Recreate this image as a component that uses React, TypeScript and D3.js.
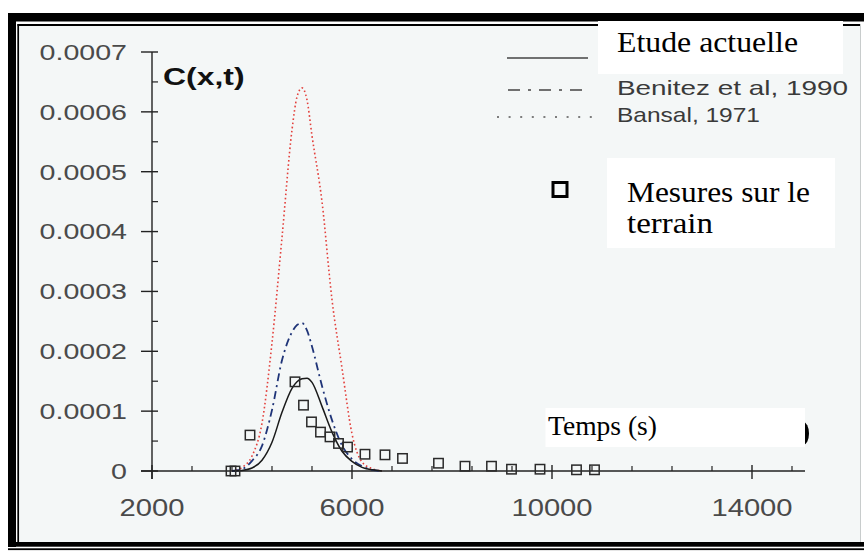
import React from 'react';
import * as d3 from 'd3';

const W = 864;
const H = 551;

// ---- data ----
const curveTimes = [3600, 3800, 4000, 4200, 4400, 4600, 4800, 4900, 5000, 5100, 5200, 5400, 5600, 5800, 6000, 6200, 6400, 6600];
const etudeActuelle = [0, 0.000001, 0.000005, 0.000018, 0.000048, 0.000098, 0.000138, 0.000149, 0.000154, 0.000155, 0.000148, 0.000108, 0.000065, 0.000033, 0.000016, 0.000006, 0.000002, 0];
const benitez1990 = [0, 0.000003, 0.000017, 0.000042, 0.000102, 0.000185, 0.000232, 0.000244, 0.000247, 0.000235, 0.000208, 0.000142, 0.000085, 0.000043, 0.00002, 0.000008, 0.000002, 0];
const bansal1971 = [0, 0.000006, 0.000025, 0.00008, 0.000214, 0.00039, 0.00057, 0.000625, 0.00064, 0.00062, 0.00056, 0.00045, 0.000286, 0.000172, 0.000062, 0.000015, 0.000004, 0];

const measuredTimes = [3580, 3660, 3960, 4860, 5030, 5190, 5370, 5560, 5730, 5910, 6260, 6660, 7010, 7730, 8260, 8790, 9190, 9760, 10490, 10850];
const measuredValues = [0, 0, 0.00006, 0.000149, 0.00011, 0.000082, 0.000065, 0.000057, 0.000046, 0.00004, 0.000028, 0.000027, 0.000021, 0.000013, 0.000008, 0.000008, 0.000003, 0.000003, 0.000002, 0.000002];

const yTicks = [0, 0.0001, 0.0002, 0.0003, 0.0004, 0.0005, 0.0006, 0.0007];
const yTickLabels = ['0', '0.0001', '0.0002', '0.0003', '0.0004', '0.0005', '0.0006', '0.0007'];
const yMinorTicks = [0.00005, 0.00015, 0.00025, 0.00035, 0.00045, 0.00055, 0.00065];
const xTicks = [2000, 6000, 10000, 14000];
const xTickLabels = ['2000', '6000', '10000', '14000'];
const xMinorTicks = [2800, 3600, 4400, 5200, 6800, 7600, 8400, 9200, 10800, 11600, 12400, 13200, 14800];

const legendLabels = ['Etude actuelle', 'Benitez et al, 1990', 'Bansal, 1971'];
const measuredLabel = ['Mesures sur le', 'terrain'];
const yTitle = 'C(x,t)';
const xTitle = 'Temps (s)';

const x = d3.scaleLinear().domain([2000, 15000]).range([152, 802]);
const y = d3.scaleLinear().domain([0, 0.0007]).range([471, 52]);

const line = d3
  .line<[number, number]>()
  .x((d) => x(d[0]))
  .y((d) => y(d[1]))
  .curve(d3.curveMonotoneX);

const toPts = (vals: number[]) => curveTimes.map((t, i) => [t, vals[i]] as [number, number]);

const SANS = '"Liberation Sans", Arial, sans-serif';
const SERIF = '"Liberation Serif", "Times New Roman", serif';

export default function App() {
  const x0 = x(2000);
  const y0 = y(0);
  return (
    <svg
      width={W}
      height={H}
      viewBox={`0 0 ${W} ${H}`}
      style={{ position: 'absolute', left: 0, top: 0, background: '#ffffff' }}
    >
      {/* plot background */}
      <rect x={19} y={26} width={841} height={516} fill="#f4f7f7" />

      {/* frame */}
      <rect x={8} y={13} width={856} height={8.5} fill="#000" />
      <rect x={8} y={13} width={8} height={534} fill="#000" />
      <rect x={8} y={542} width={856} height={4.7} fill="#000" />
      <rect x={8} y={548.3} width={856} height={1.8} fill="#000" />
      <line x1={17.5} y1={25} x2={861} y2={25} stroke="#000" strokeWidth={1.8} />
      <line x1={18.2} y1={24} x2={18.2} y2={542} stroke="#000" strokeWidth={1.7} />
      <line x1={860.5} y1={24} x2={860.5} y2={542} stroke="#c8cccc" strokeWidth={1} />

      {/* y axis */}
      <line x1={x0} y1={y(0.0007)} x2={x0} y2={y0 + 8} stroke="#222" strokeWidth={1.4} />
      {yTicks.map((v) => (
        <line key={'yt' + v} x1={x0 - 11} y1={y(v)} x2={x0 + 6} y2={y(v)} stroke="#222" strokeWidth={1.4} />
      ))}
      {yMinorTicks.map((v) => (
        <line key={'ym' + v} x1={x0} y1={y(v)} x2={x0 + 6} y2={y(v)} stroke="#222" strokeWidth={1.2} />
      ))}
      {yTicks.map((v, i) => (
        <text
          key={'yl' + v}
          transform={`translate(127,${y(v) + 7.8}) scale(1.3,1)`}
          textAnchor="end"
          fontFamily={SANS}
          fontSize={22}
          fill="#4a4a4a"
        >
          {yTickLabels[i]}
        </text>
      ))}

      {/* x axis */}
      <line x1={x0 - 11} y1={y0} x2={x(15000) + 3} y2={y0} stroke="#222" strokeWidth={1.4} />
      {xTicks.map((v) => (
        <line key={'xt' + v} x1={x(v)} y1={y0 - 6} x2={x(v)} y2={y0 + 8} stroke="#222" strokeWidth={1.4} />
      ))}
      {xMinorTicks.map((v) => (
        <line key={'xm' + v} x1={x(v)} y1={y0 - 5} x2={x(v)} y2={y0} stroke="#222" strokeWidth={1.2} />
      ))}
      {xTicks.map((v, i) => (
        <text
          key={'xl' + v}
          transform={`translate(${x(v)},516) scale(1.27,1)`}
          textAnchor="middle"
          fontFamily={SANS}
          fontSize={23}
          fill="#4a4a4a"
        >
          {xTickLabels[i]}
        </text>
      ))}

      {/* curves */}
      <path d={line(toPts(bansal1971)) || ''} fill="none" stroke="#e3403c" strokeWidth={1.6} strokeDasharray="1.6 2.6" />
      <path d={line(toPts(benitez1990)) || ''} fill="none" stroke="#1f3478" strokeWidth={1.8} strokeDasharray="8 4 2 4" />
      <path d={line(toPts(etudeActuelle)) || ''} fill="none" stroke="#1a1a1a" strokeWidth={1.5} />

      {/* measurements */}
      {measuredTimes.map((t, i) => (
        <rect
          key={'m' + i}
          x={x(t) - 4.7}
          y={y(measuredValues[i]) - 4.7}
          width={9.4}
          height={9.4}
          fill="none"
          stroke="#2a2a2a"
          strokeWidth={1.5}
        />
      ))}

      {/* y title */}
      <text transform="translate(163,84.5) scale(1.33,1)" fontFamily={SANS} fontWeight="bold" fontSize={24} fill="#111">
        {yTitle}
      </text>

      {/* legend */}
      <line x1={507} y1={58} x2={588} y2={58} stroke="#444" strokeWidth={1.6} />
      <line x1={508} y1={90} x2={588} y2={90} stroke="#444" strokeWidth={1.6} strokeDasharray="12 8 3 8" />
      <line x1={497} y1={117} x2={594} y2={117} stroke="#555" strokeWidth={1.6} strokeDasharray="2 9.6" />
      <text x={617} y={95} fontFamily={SANS} fontSize={21} fill="#3a3a3a" textLength={231} lengthAdjust="spacingAndGlyphs">
        {legendLabels[1]}
      </text>
      <text x={617} y={122} fontFamily={SANS} fontSize={21} fill="#3a3a3a" textLength={143} lengthAdjust="spacingAndGlyphs">
        {legendLabels[2]}
      </text>
      <rect x={553} y={182.5} width={14} height={14} fill="none" stroke="#000" strokeWidth={3} />

      {/* overlay text boxes */}
      <rect x={598} y={21} width={245} height={53} fill="#ffffff" />
      <text x={617} y={52} fontFamily={SERIF} fontSize={30} fill="#000" textLength={181} lengthAdjust="spacingAndGlyphs">
        {legendLabels[0]}
      </text>

      <rect x={607} y={158} width={228} height={90} fill="#ffffff" />
      <text x={627} y={201.5} fontFamily={SERIF} fontSize={30} fill="#000" textLength={183} lengthAdjust="spacingAndGlyphs">
        {measuredLabel[0]}
      </text>
      <text x={627} y={233} fontFamily={SERIF} fontSize={30} fill="#000" textLength={86} lengthAdjust="spacingAndGlyphs">
        {measuredLabel[1]}
      </text>

      <ellipse cx={803} cy={433.5} rx={6} ry={11.5} fill="#000" />
      <rect x={545.5} y={408} width={259.5} height={39} fill="#ffffff" />
      <text x={548} y={435} fontFamily={SERIF} fontSize={27} fill="#000" textLength={109} lengthAdjust="spacingAndGlyphs">
        {xTitle}
      </text>
    </svg>
  );
}
